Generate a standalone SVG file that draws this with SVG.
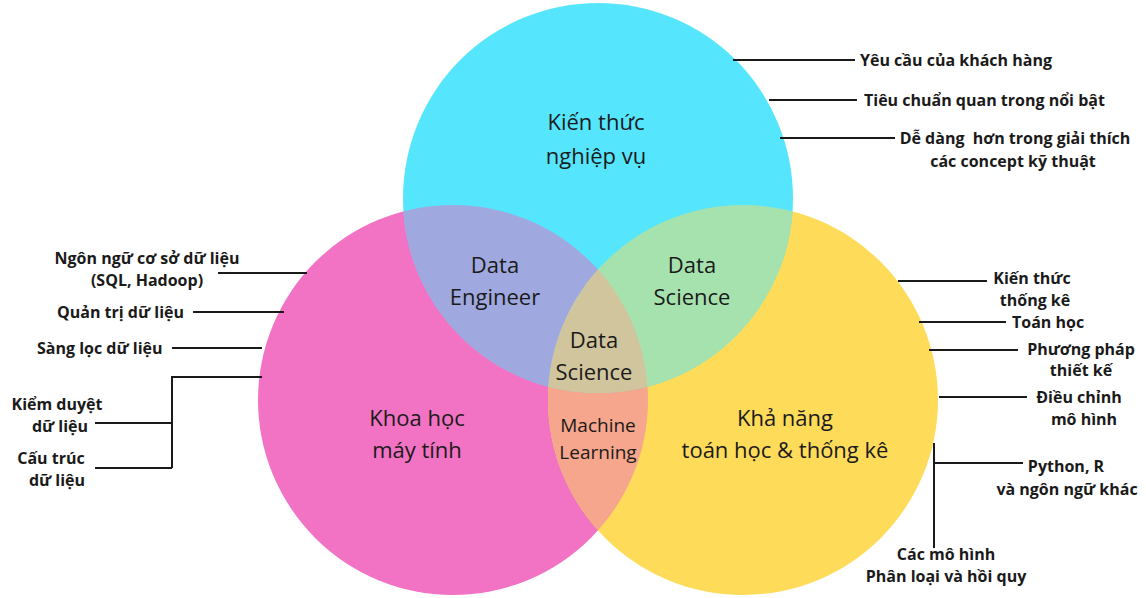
<svg xmlns="http://www.w3.org/2000/svg" width="1146" height="598" viewBox="0 0 1146 598">
<style>
.main{font-family:"Open Sans","Liberation Sans",sans-serif;font-size:22px;fill:#1a1a1a;text-anchor:middle}
.ml{font-size:19px}
.lbl{font-family:"Open Sans","Liberation Sans",sans-serif;font-size:16px;font-weight:bold;fill:#1a1a1a}
.c{text-anchor:middle}
.ln{stroke:#1a1a1a;stroke-width:2;fill:none}
</style>
<defs>
<clipPath id="cpPink"><circle cx="453" cy="400" r="195"/></clipPath>
<clipPath id="cpYellow"><circle cx="743" cy="400" r="195"/></clipPath>
<clipPath id="cpCyan"><circle cx="598" cy="198" r="195"/></clipPath>
</defs>
<rect width="1146" height="598" fill="#ffffff"/>
<g id="circles">
<circle id="pink" cx="453" cy="400" r="195" fill="#F273C3"/>
<circle id="yellow" cx="743" cy="400" r="195" fill="#FEDC5A"/>
<circle id="cyan" cx="598" cy="198" r="195" fill="#55E6FE"/>
<circle cx="743" cy="400" r="195" fill="#F5A68C" clip-path="url(#cpPink)"/>
<circle cx="598" cy="198" r="195" fill="#A0A9DF" clip-path="url(#cpPink)"/>
<circle cx="598" cy="198" r="195" fill="#A6E2AE" clip-path="url(#cpYellow)"/>
<g clip-path="url(#cpPink)"><circle cx="598" cy="198" r="195" fill="#D1C59D" clip-path="url(#cpYellow)"/></g>
</g>
<g id="circle-labels">
<text class="main" x="596" y="130">Kiến thức</text>
<text class="main" x="596" y="164">nghiệp vụ</text>
<text class="main" x="495" y="273">Data</text>
<text class="main" x="495" y="305">Engineer</text>
<text class="main" x="692" y="273">Data</text>
<text class="main" x="692" y="305">Science</text>
<text class="main" x="594" y="348">Data</text>
<text class="main" x="594" y="380">Science</text>
<text class="main ml" x="598" y="432">Machine</text>
<text class="main ml" x="598" y="459">Learning</text>
<text class="main" x="417" y="426">Khoa học</text>
<text class="main" x="417" y="458">máy tính</text>
<text class="main" x="785" y="426">Khả năng</text>
<text class="main" x="785" y="458">toán học &amp; thống kê</text>
</g>
<g id="connectors">
<path class="ln" d="M733 60H855"/>
<path class="ln" d="M769 100H857"/>
<path class="ln" d="M780 138H895"/>
<path class="ln" d="M218 273H307"/>
<path class="ln" d="M193 312H284"/>
<path class="ln" d="M172 348H262"/>
<path class="ln" d="M262 377H172V468M172 423H95M172 468H95"/>
<path class="ln" d="M898 281H987"/>
<path class="ln" d="M919 322H1006"/>
<path class="ln" d="M929 350H1018"/>
<path class="ln" d="M939 397H1027"/>
<path class="ln" d="M934 443V548M934 463H1023"/>
</g>
<g id="label-top">
<text class="lbl" x="860" y="66">Yêu cầu của khách hàng</text>
<text class="lbl" x="864" y="106">Tiêu chuẩn quan trong nổi bật</text>
<text class="lbl c" x="1015" y="144" xml:space="preserve">Dễ dàng  hơn trong giải thích</text>
<text class="lbl c" x="1013" y="167">các concept kỹ thuật</text>
</g>
<g id="label-left">
<text class="lbl c" x="147" y="264">Ngôn ngữ cơ sở dữ liệu</text>
<text class="lbl c" x="147" y="286">(SQL, Hadoop)</text>
<text class="lbl" x="57" y="318">Quản trị dữ liệu</text>
<text class="lbl" x="37" y="354">Sàng lọc dữ liệu</text>
<text class="lbl c" x="57" y="410">Kiểm duyệt</text>
<text class="lbl c" x="60" y="432">dữ liệu</text>
<text class="lbl c" x="51" y="464">Cấu trúc</text>
<text class="lbl c" x="57" y="486">dữ liệu</text>
</g>
<g id="label-right">
<text class="lbl c" x="1032" y="284">Kiến thức</text>
<text class="lbl c" x="1035" y="306">thống kê</text>
<text class="lbl" x="1012" y="328">Toán học</text>
<text class="lbl c" x="1081" y="355">Phương pháp</text>
<text class="lbl c" x="1081" y="376">thiết kế</text>
<text class="lbl c" x="1079" y="403">Điều chỉnh</text>
<text class="lbl c" x="1084" y="425">mô hình</text>
<text class="lbl c" x="1066" y="472">Python, R</text>
<text class="lbl c" x="1067" y="495">và ngôn ngữ khác</text>
<text class="lbl c" x="946" y="560">Các mô hình</text>
<text class="lbl c" x="946" y="582">Phân loại và hồi quy</text>
</g>
</svg>
